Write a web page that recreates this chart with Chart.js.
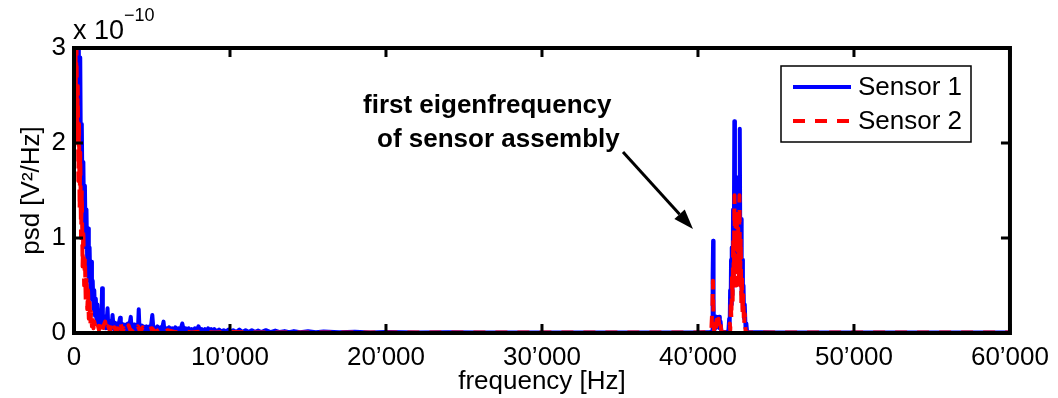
<!DOCTYPE html>
<html>
<head>
<meta charset="utf-8">
<script src="https://cdn.jsdelivr.net/npm/chart.js@4"></script>
<style>
	html, body { margin: 0; padding: 0; background: #ffffff; }
	#Chart_Psd { display: block; }
</style>
</head>
<body>
<canvas id="Chart_Psd" width="1058" height="398"></canvas>
<script>

// psd values are in units of 1e-10 V^2/Hz (the axis shows "x 10^-10")

const freq_s1 = [
	0, 50, 100, 150, 200, 250, 300, 350, 400, 450,
	500, 550, 600, 650, 700, 750, 800, 850, 900, 950,
	1000, 1050, 1100, 1150, 1200, 1250, 1300, 1350, 1400, 1450,
	1500, 1550, 1600, 1650, 1700, 1750, 1800, 1850, 1900, 1950,
	2000, 2050, 2100, 2150, 2200, 2250, 2300, 2350, 2400, 2470,
	2550, 2600, 2650, 2700, 2750, 2800, 2850, 2900, 2950, 3000,
	3050, 3100, 3150, 3200, 3250, 3300, 3350, 3400, 3450, 3500,
	3550, 3640, 3700, 3750, 3800, 3850, 3900, 3950, 4000, 4050,
	4100, 4150, 4200, 4250, 4300, 4350, 4400, 4450, 4500, 4550,
	4600, 4650, 4700, 4750, 4800, 4850, 4900, 5020, 5100, 5150,
	5200, 5250, 5300, 5350, 5400, 5450, 5500, 5550, 5600, 5650,
	5740, 5800, 5850, 5900, 5950, 6000, 6100, 6200, 6300, 6400,
	6500, 6600, 6700, 6800, 6940, 7050, 7150, 7250, 7350, 7450,
	7550, 7650, 7750, 7850, 7980, 8100, 8200, 8300, 8400, 8500,
	8600, 8700, 8800, 8900, 9000, 9150, 9300, 9450, 9600, 9750,
	9900, 10050, 10200, 10400, 10600, 10800, 11000, 11200, 11400, 11600,
	11800, 12000, 12300, 12600, 12900, 13200, 13500, 13800, 14100, 14500,
	15000, 15500, 16000, 17000, 18000, 19000, 20000, 22000, 24000, 26000,
	30000, 35000, 40000, 40800, 40900, 40940, 40970, 41000, 41030, 41080,
	41120, 41160, 41200, 41250, 41300, 41350, 41400, 41450, 41500, 41600,
	41800, 41950, 42000, 42030, 42060, 42090, 42120, 42150, 42180, 42210,
	42250, 42290, 42330, 42370, 42400, 42440, 42480, 42520, 42560, 42600,
	42640, 42680, 42720, 42760, 42800, 42840, 42880, 42920, 42960, 43000,
	43050, 43100, 43150, 45000, 50000, 55000, 60000
];
const psd_s1 = [
	3.4, 3.2, 3.5, 2.9, 3.4, 2.5, 3.2, 2.0, 2.9, 1.6,
	2.2, 1.3, 1.8, 1.1, 1.55, 0.9, 1.3, 0.7, 1.1, 0.55,
	0.9, 0.45, 0.75, 0.35, 0.55, 0.25, 0.45, 0.18, 0.36, 0.12,
	0.3, 0.1, 0.24, 0.08, 0.2, 0.1, 0.47, 0.07, 0.18, 0.06,
	0.16, 0.05, 0.14, 0.26, 0.05, 0.13, 0.04, 0.12, 0.05, 0.19,
	0.04, 0.11, 0.04, 0.1, 0.03, 0.09, 0.04, 0.12, 0.16, 0.04,
	0.1, 0.03, 0.09, 0.04, 0.08, 0.03, 0.09, 0.04, 0.1, 0.03,
	0.08, 0.17, 0.03, 0.08, 0.03, 0.09, 0.03, 0.07, 0.03, 0.08,
	0.04, 0.25, 0.03, 0.07, 0.03, 0.08, 0.03, 0.07, 0.02, 0.06,
	0.03, 0.07, 0.02, 0.06, 0.03, 0.07, 0.02, 0.19, 0.02, 0.06,
	0.02, 0.06, 0.03, 0.07, 0.02, 0.05, 0.02, 0.06, 0.02, 0.05,
	0.12, 0.02, 0.05, 0.02, 0.05, 0.02, 0.06, 0.02, 0.05, 0.02,
	0.06, 0.02, 0.05, 0.02, 0.1, 0.02, 0.05, 0.02, 0.05, 0.02,
	0.04, 0.02, 0.05, 0.02, 0.07, 0.02, 0.04, 0.015, 0.04, 0.015,
	0.05, 0.015, 0.04, 0.015, 0.04, 0.015, 0.035, 0.015, 0.03, 0.015,
	0.035, 0.015, 0.03, 0.01, 0.035, 0.01, 0.03, 0.01, 0.03, 0.01,
	0.025, 0.01, 0.03, 0.01, 0.025, 0.01, 0.02, 0.008, 0.02, 0.008,
	0.018, 0.008, 0.015, 0.008, 0.012, 0.006, 0.01, 0.006, 0.008, 0.005,
	0.005, 0.004, 0.004, 0.01, 0.02, 0.6, 0.97, 0.3, 0.04, 0.12,
	0.05, 0.17, 0.08, 0.16, 0.06, 0.17, 0.05, 0.12, 0.02, 0.01,
	0.01, 0.02, 0.15, 0.05, 0.45, 0.2, 0.77, 0.3, 0.9, 0.4,
	1.3, 0.6, 2.23, 0.8, 1.5, 0.7, 1.64, 0.8, 1.3, 0.7,
	1.6, 2.15, 0.6, 1.2, 0.4, 0.77, 0.25, 0.5, 0.15, 0.3,
	0.05, 0.1, 0.01, 0.004, 0.004, 0.004, 0.004
];

const freq_s2 = [
	0, 40, 80, 120, 160, 200, 240, 280, 320, 360,
	400, 450, 500, 550, 600, 650, 700, 750, 800, 850,
	900, 950, 1000, 1050, 1100, 1150, 1200, 1250, 1300, 1400,
	1500, 1600, 1700, 1800, 1900, 2000, 2100, 2200, 2300, 2400,
	2500, 2600, 2700, 2800, 2900, 3000, 3100, 3200, 3350, 3500,
	3650, 3800, 3950, 4100, 4250, 4400, 4600, 4800, 5000, 5200,
	5400, 5600, 5800, 6000, 6500, 7000, 7500, 8000, 9000, 10000,
	12000, 15000, 20000, 30000, 40000, 40850, 40930, 40960, 40990, 41030,
	41100, 41150, 41200, 41260, 41320, 41380, 41440, 41500, 41600, 42000,
	42040, 42070, 42100, 42140, 42180, 42220, 42260, 42300, 42340, 42380,
	42420, 42460, 42500, 42540, 42580, 42620, 42660, 42700, 42740, 42780,
	42820, 42860, 42900, 42950, 43000, 43050, 43200, 50000, 60000
];
const psd_s2 = [
	3.5, 3.1, 3.4, 2.6, 3.0, 2.0, 2.6, 1.6, 2.2, 1.3,
	1.9, 1.0, 1.5, 0.7, 1.1, 0.5, 0.8, 0.35, 0.6, 0.25,
	0.45, 0.15, 0.32, 0.1, 0.22, 0.07, 0.16, 0.05, 0.12, 0.04,
	0.1, 0.03, 0.1, 0.02, 0.08, 0.12, 0.02, 0.07, 0.02, 0.08,
	0.015, 0.06, 0.015, 0.05, 0.015, 0.1, 0.01, 0.05, 0.01, 0.08,
	0.01, 0.04, 0.01, 0.07, 0.01, 0.06, 0.01, 0.04, 0.05, 0.01,
	0.03, 0.05, 0.008, 0.03, 0.008, 0.02, 0.006, 0.012, 0.005, 0.01,
	0.005, 0.006, 0.004, 0.004, 0.004, 0.01, 0.3, 0.55, 0.2, 0.03,
	0.1, 0.04, 0.14, 0.05, 0.15, 0.04, 0.1, 0.02, 0.005, 0.01,
	0.1, 0.03, 0.35, 0.15, 0.6, 0.3, 1.0, 0.5, 1.45, 0.6,
	1.2, 0.5, 1.3, 0.6, 1.1, 0.55, 1.45, 0.5, 1.0, 0.3,
	0.6, 0.2, 0.4, 0.08, 0.2, 0.02, 0.004, 0.004, 0.004
];

const x_ticks = [0, 10000, 20000, 30000, 40000, 50000, 60000];
const x_tick_labels = ['0', '10\u2019000', '20\u2019000', '30\u2019000', '40\u2019000', '50\u2019000', '60\u2019000'];
const y_ticks = [0, 1, 2, 3];
const y_tick_labels = ['0', '1', '2', '3'];

const series_labels = ['Sensor 1', 'Sensor 2'];
const annotation_lines = ['first eigenfrequency', 'of sensor assembly'];

const FONT = "'Liberation Sans', Arial, Helvetica, sans-serif";

//=============================================================================================================================

function to_points(xs, ys) {
	const pts = [];
	let idx = 0;
	while(idx < xs.length) {
		pts[idx] = { x: xs[idx], y: ys[idx] };
		idx++;
	}
	return pts;
}

const matlab_frame = {
	id: 'matlab_frame',
	afterDatasetsDraw(chart) {
		const ctx = chart.ctx;
		const area = chart.chartArea;
		const xs = chart.scales.x;
		const ys = chart.scales.y;

		ctx.save();
		ctx.strokeStyle = '#000000';

		// inward ticks on all four sides
		ctx.lineWidth = 3;
		ctx.beginPath();
		x_ticks.forEach(v => {
			const px = xs.getPixelForValue(v);
			ctx.moveTo(px, area.bottom); ctx.lineTo(px, area.bottom - 9);
			ctx.moveTo(px, area.top); ctx.lineTo(px, area.top + 9);
		});
		y_ticks.forEach(v => {
			const py = ys.getPixelForValue(v);
			ctx.moveTo(area.left, py); ctx.lineTo(area.left + 9, py);
			ctx.moveTo(area.right, py); ctx.lineTo(area.right - 9, py);
		});
		ctx.stroke();

		// box
		ctx.lineWidth = 4;
		ctx.strokeRect(area.left, area.top, area.right - area.left, area.bottom - area.top);

		// exponent
		ctx.fillStyle = '#000000';
		ctx.textBaseline = 'alphabetic';
		ctx.textAlign = 'left';
		ctx.font = `27px ${FONT}`;
		ctx.fillText('x 10', 73, 39);
		ctx.font = `18px ${FONT}`;
		ctx.fillText('\u221210', 124, 21);

		// annotation
		ctx.font = `bold 26px ${FONT}`;
		ctx.fillText(annotation_lines[0], 363, 113);
		ctx.fillText(annotation_lines[1], 377, 147);

		// arrow
		const x0 = 623, y0 = 152, x1 = 693, y1 = 229;
		const ang = Math.atan2(y1 - y0, x1 - x0);
		const head = 20, half = 7;
		const bx = x1 - head * Math.cos(ang), by = y1 - head * Math.sin(ang);
		ctx.lineWidth = 3;
		ctx.beginPath();
		ctx.moveTo(x0, y0);
		ctx.lineTo(bx, by);
		ctx.stroke();
		ctx.beginPath();
		ctx.moveTo(x1, y1);
		ctx.lineTo(bx + half * Math.sin(ang), by - half * Math.cos(ang));
		ctx.lineTo(bx - half * Math.sin(ang), by + half * Math.cos(ang));
		ctx.closePath();
		ctx.fill();

		// legend
		const lx = 781, ly = 66, lw = 190, lh = 76;
		ctx.fillStyle = '#ffffff';
		ctx.fillRect(lx, ly, lw, lh);
		ctx.lineWidth = 1.5;
		ctx.strokeRect(lx, ly, lw, lh);
		const rows = [87, 121];
		chart.data.datasets.forEach((ds, i) => {
			ctx.strokeStyle = ds.borderColor;
			ctx.lineWidth = 4;
			ctx.setLineDash(ds.borderDash || []);
			ctx.beginPath();
			ctx.moveTo(793, rows[i]);
			ctx.lineTo(851, rows[i]);
			ctx.stroke();
			ctx.setLineDash([]);
			ctx.fillStyle = '#000000';
			ctx.font = `26px ${FONT}`;
			ctx.textBaseline = 'middle';
			ctx.fillText(ds.label, 858, rows[i] + 1);
		});

		ctx.restore();
	}
};

function init() {

	const chart_ctx = document.getElementById('Chart_Psd').getContext('2d');

	const chart_data = {
		datasets: [{
				label: series_labels[0],
				borderColor: 'rgb(0, 0, 255)',
				borderWidth: 4,
				data: to_points(freq_s1, psd_s1),
				order: 2
			}, {
				label: series_labels[1],
				borderColor: 'rgb(255, 0, 0)',
				borderWidth: 4,
				borderDash: [12, 10],
				data: to_points(freq_s2, psd_s2),
				order: 1
			}
		]
	};

	const options = {
		responsive: false,
		animation: false,
		devicePixelRatio: 1,
		events: [],
		layout: {
			padding: { top: 48, right: 46, left: 0, bottom: 0 }
		},
		elements: {
			point: { radius: 0 },
			line: { tension: 0, borderJoinStyle: 'round', fill: false }
		},
		plugins: {
			legend: { display: false },
			tooltip: { enabled: false }
		},
		scales: {
			x: {
				type: 'linear',
				min: 0,
				max: 60000,
				grid: { display: false, drawTicks: false },
				border: { display: false },
				afterFit: function(scale) { scale.height = 65; },
				afterBuildTicks: function(scale) { scale.ticks = x_ticks.map(v => ({ value: v })); },
				ticks: {
					padding: 9,
					maxRotation: 0,
					autoSkip: false,
					color: '#000000',
					font: { family: FONT, size: 26 },
					callback: function(value, index) { return x_tick_labels[x_ticks.indexOf(value)]; }
				},
				title: {
					display: true,
					text: 'frequency [Hz]',
					color: '#000000',
					font: { family: FONT, size: 26 },
					padding: { top: 0, bottom: 1 }
				}
			},
			y: {
				type: 'linear',
				min: 0,
				max: 3,
				grid: { display: false, drawTicks: false },
				border: { display: false },
				afterFit: function(scale) { scale.width = 74; },
				afterBuildTicks: function(scale) { scale.ticks = y_ticks.map(v => ({ value: v })); },
				ticks: {
					padding: 8,
					color: '#000000',
					font: { family: FONT, size: 26 },
					callback: function(value, index) { return y_tick_labels[y_ticks.indexOf(value)]; }
				},
				title: {
					display: true,
					text: 'psd [V\u00b2/Hz]',
					color: '#000000',
					font: { family: FONT, size: 26 },
					padding: { top: 16, bottom: 0 }
				}
			}
		}
	};

	const config = {
		type: 'line',
		data: chart_data,
		options: options,
		plugins: [matlab_frame]
	};

	return new Chart(chart_ctx, config);
}

window.onload = init;
</script>
</body>
</html>
